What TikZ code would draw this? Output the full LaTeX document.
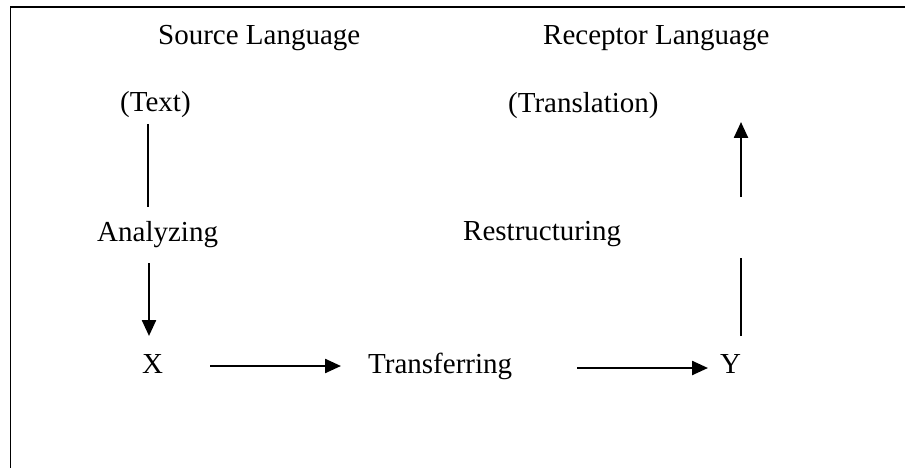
\documentclass[tikz,border=0pt]{standalone}
\usepackage{fontspec}
\setmainfont{Liberation Serif}
\usetikzlibrary{arrows.meta}
\begin{document}
\begin{tikzpicture}[x=1pt,y=-1pt,
  lbl/.style={anchor=base west,inner sep=0pt,font=\fontsize{29}{34}\selectfont},
  conn/.style={line width=2.4pt},
  arr/.style={line width=2.4pt,-{Triangle[length=16pt,width=14pt]}},
  frame/.style={line width=1.6pt}]
\useasboundingbox (0,0) rectangle (905,468);
\fill[white] (0,0) rectangle (905,468);
% frame (right and bottom edges lie outside the picture)
\coordinate (fr1) at (10.5,468);
\coordinate (fr2) at (10.5,7);
\coordinate (fr3) at (905,7);
\draw[frame] (fr1) -- (fr2) -- (fr3);
% texts
\node[lbl] (src) at (158,45) {Source Language};
\node[lbl] (rec) at (543,45) {Receptor Language};
\node[lbl] (text) at (120,112) {(Text)};
\node[lbl] (transl) at (508,113) {(Translation)};
\node[lbl] (ana) at (97,241) {Analyzing};
\node[lbl] (restr) at (463,240) {Restructuring};
\node[lbl] (X) at (142,373) {X};
\node[lbl] (transf) at (368,373) {Transferring};
\node[lbl] (Y) at (720,373) {Y};
% connector end points
\coordinate (a1) at (148,124);
\coordinate (a2) at (148,207);
\coordinate (b1) at (149,263);
\coordinate (b2) at (149,336);
\coordinate (c1) at (210,366);
\coordinate (c2) at (341,366);
\coordinate (d1) at (577,368);
\coordinate (d2) at (708,368);
\coordinate (e1) at (741,336);
\coordinate (e2) at (741,258);
\coordinate (f1) at (741,197);
\coordinate (f2) at (741,122);
% connectors
\draw[conn] (a1) -- (a2);
\draw[arr] (b1) -- (b2);
\draw[arr] (c1) -- (c2);
\draw[arr] (d1) -- (d2);
\draw[conn] (e1) -- (e2);
\draw[arr] (f1) -- (f2);
\end{tikzpicture}
\end{document}
